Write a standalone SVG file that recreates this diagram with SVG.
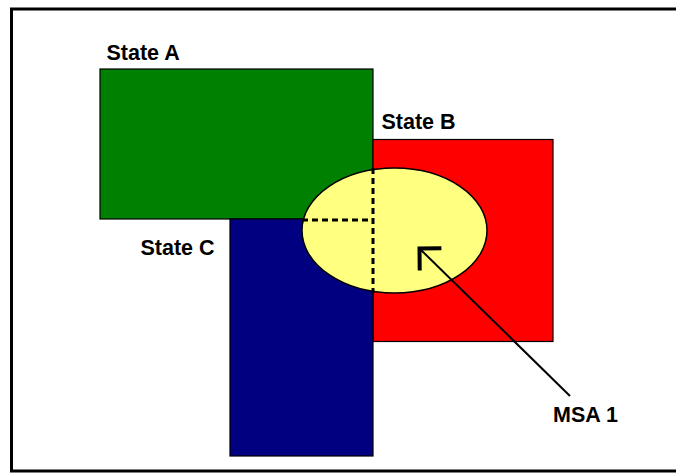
<svg xmlns="http://www.w3.org/2000/svg" width="676" height="473" viewBox="0 0 676 473">
<style>
.lbl{font-family:"Liberation Sans",Arial,sans-serif;font-weight:bold;font-size:21.5px;fill:#000}
.box{stroke:#000;stroke-width:1.2}
.dash{stroke:#000;stroke-width:3;stroke-dasharray:6 4;fill:none}
</style>
<defs>
<marker id="open" markerUnits="userSpaceOnUse" markerWidth="40" markerHeight="40" viewBox="-20 -20 40 40" refX="0" refY="0" orient="auto">
<path d="M -15.5 -15.5 L 0 0 L -15.5 15.5" fill="none" stroke="#000" stroke-width="4" stroke-linejoin="miter"/>
</marker>
</defs>
<rect x="0" y="0" width="676" height="473" fill="#fff"/>
<rect id="frame" x="11.5" y="9" width="680" height="462" fill="none" stroke="#000" stroke-width="3"/>
<g id="stateA">
<rect class="box" x="100" y="69" width="273" height="150" fill="#008000"/>
<text class="lbl" x="106.5" y="60">State A</text>
</g>
<g id="stateB">
<rect class="box" x="373" y="139.5" width="180" height="202" fill="#ff0000"/>
<text class="lbl" x="381.5" y="128.5">State B</text>
</g>
<g id="stateC">
<rect class="box" x="230" y="219" width="143" height="237" fill="#000080"/>
<text class="lbl" x="140.5" y="255">State C</text>
</g>
<g id="msa1">
<ellipse cx="394.5" cy="230.5" rx="92.5" ry="62.5" fill="#ffff80" stroke="#000" stroke-width="1.5"/>
<line class="dash" x1="373" y1="168" x2="373" y2="293"/>
<line class="dash" x1="302" y1="220" x2="373" y2="220"/>
<text class="lbl" x="553" y="421.5">MSA 1</text>
</g>
<g id="connectors">
<line x1="570" y1="396" x2="419.5" y2="248.5" stroke="#000" stroke-width="2" marker-end="url(#open)"/>
</g>
</svg>
